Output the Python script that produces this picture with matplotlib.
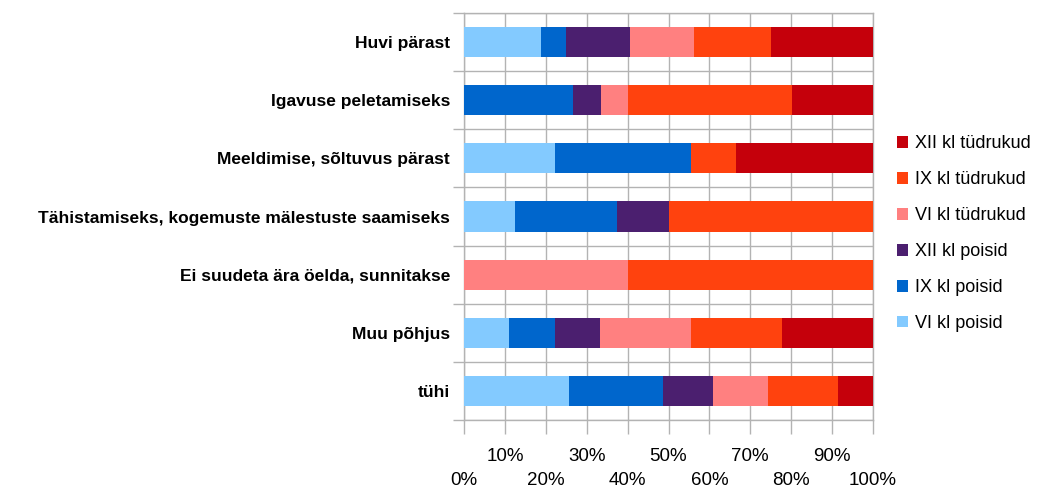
import matplotlib
matplotlib.use("Agg")
import matplotlib.pyplot as plt
import numpy as np

plt.rcParams['font.family'] = ['Liberation Sans', 'DejaVu Sans']

# categories, top to bottom
categories = ["Huvi pärast", "Igavuse peletamiseks", "Meeldimise, sõltuvus pärast",
              "Tähistamiseks, kogemuste mälestuste saamiseks",
              "Ei suudeta ära öelda, sunnitakse", "Muu põhjus", "tühi"]

series_names = ["VI kl poisid", "IX kl poisid", "XII kl poisid",
                "VI kl tüdrukud", "IX kl tüdrukud", "XII kl tüdrukud"]
colors = ["#83caff", "#0066cc", "#4b1f6f", "#ff8080", "#ff420e", "#c5000b"]

# percent shares per category
vi_poisid   = [18.8, 0.0, 22.2, 12.5, 0.0, 11.1, 25.7]
ix_poisid   = [6.2, 26.7, 33.3, 25.0, 0.0, 11.1, 23.0]
xii_poisid  = [15.6, 6.7, 0.0, 12.5, 0.0, 11.1, 12.2]
vi_tudrukud = [15.6, 6.7, 0.0, 0.0, 40.0, 22.2, 13.4]
ix_tudrukud = [18.8, 40.0, 11.1, 50.0, 60.0, 22.2, 17.1]
xii_tudrukud = [25.0, 20.0, 33.3, 0.0, 0.0, 22.2, 8.6]

data = [vi_poisid, ix_poisid, xii_poisid, vi_tudrukud, ix_tudrukud, xii_tudrukud]

fig = plt.figure(figsize=(10.45, 4.91), dpi=100)
ax = fig.add_axes([464/1045, 1-420/491, 409/1045, 407/491])

y = np.arange(len(categories))
left = np.zeros(len(categories))
bars = []
for name, vals, c in zip(series_names, data, colors):
    vals = np.array(vals)
    b = ax.barh(y, vals, left=left, height=0.52, color=c, label=name, zorder=3)
    bars.append(b)
    left += vals

ax.set_xlim(0, 100)
ax.set_ylim(len(categories) - 0.5, -0.5)

gc = "#b3b3b3"
ax.set_xticks(np.arange(0, 101, 10))
xlabels = []
for i, v in enumerate(range(0, 101, 10)):
    if i % 2 == 0:
        xlabels.append("\n%d%%" % v)
    else:
        xlabels.append("%d%%" % v)
ax.set_xticklabels(xlabels, fontsize=13.5, linespacing=1.55)
ax.tick_params(axis='x', length=10, color=gc, width=1, pad=10)

ax.set_yticks(y)
ax.set_yticklabels(categories, fontsize=12.5, fontweight='bold')
ax.tick_params(axis='y', length=0, pad=10)
ax.set_yticks(np.arange(-0.5, len(categories)), minor=True)
ax.tick_params(axis='y', which='minor', length=8, color=gc, width=1)

ax.grid(axis='x', color=gc, lw=1, zorder=0)
ax.grid(axis='y', which='minor', color=gc, lw=1, zorder=0)
ax.set_axisbelow(True)
for s in ax.spines.values():
    s.set_color(gc)
    s.set_linewidth(1)

handles = bars[::-1]
labels = series_names[::-1]
fig.legend(handles, labels, loc='center left', bbox_to_anchor=(0.843, 0.524),
           frameon=False, fontsize=13, handlelength=0.6, handleheight=0.6,
           handletextpad=0.4, labelspacing=1.05)

fig.savefig("out.png", dpi=100)
